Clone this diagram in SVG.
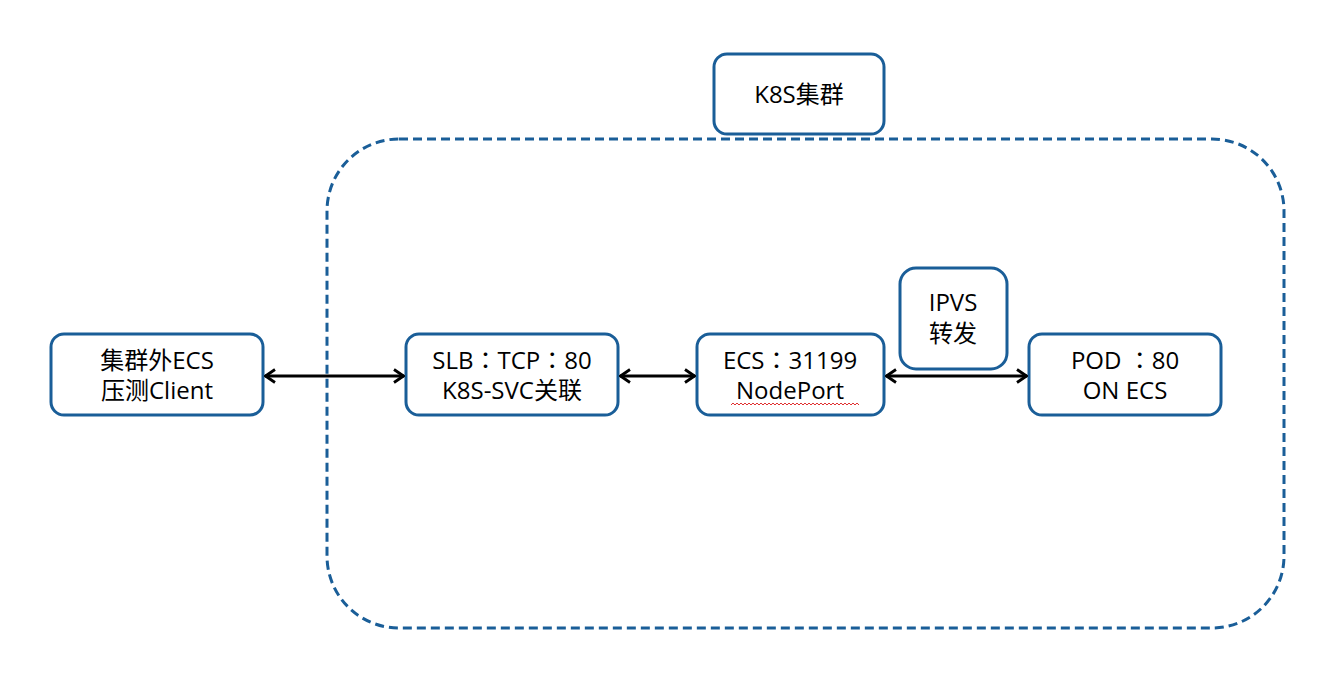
<svg xmlns="http://www.w3.org/2000/svg" width="1332" height="684" viewBox="0 0 1332 684">
<defs>
<marker id="ah" viewBox="0 0 14 16" refX="13" refY="8" markerWidth="14" markerHeight="16" markerUnits="userSpaceOnUse" orient="auto-start-reverse">
<path d="M3,1.5 L12.5,8 L3,14.5" fill="none" stroke="#000" stroke-width="2.8"/>
</marker>
</defs>
<style>
.box{fill:#fff;stroke:#1a5e98;stroke-width:3}
.cluster{fill:none;stroke:#1a5e98;stroke-width:3;stroke-dasharray:9 5}
.t{font-family:"Open Sans","Noto Sans CJK SC",sans-serif;font-size:24px;fill:#000;text-anchor:middle}
.p{font-family:"Noto Sans CJK TC","Noto Sans CJK SC",sans-serif}
.c{stroke:#000;stroke-width:2.8;fill:none;marker-start:url(#ah);marker-end:url(#ah)}
</style>
<rect width="1332" height="684" fill="#fff"/>
<g id="cluster">
<rect class="cluster" x="327" y="139" width="957" height="489" rx="72" ry="72"/>
</g>
<g id="k8s">
<rect class="box" x="714" y="54" width="170" height="80" rx="13"/>
<text class="t" x="799" y="103">K8S集群</text>
</g>
<g id="client">
<rect class="box" x="51" y="334" width="212" height="81" rx="13"/>
<text class="t" x="157" y="369">集群外ECS</text>
<text class="t" x="157" y="399">压测Client</text>
</g>
<g id="slb">
<rect class="box" x="406" y="334" width="212" height="81" rx="13"/>
<text class="t" x="512" y="369">SLB<tspan class="p">：</tspan>TCP<tspan class="p">：</tspan>80</text>
<text class="t" x="512" y="399">K8S-SVC关联</text>
</g>
<g id="ecs">
<rect class="box" x="697" y="334" width="187" height="81" rx="13"/>
<text class="t" x="790" y="369">ECS<tspan class="p">：</tspan>31199</text>
<text class="t" x="790" y="399">NodePort</text>
<path d="M731,405 l2,-2 l2,2 l2,-2 l2,2 l2,-2 l2,2 l2,-2 l2,2 l2,-2 l2,2 l2,-2 l2,2 l2,-2 l2,2 l2,-2 l2,2 l2,-2 l2,2 l2,-2 l2,2 l2,-2 l2,2 l2,-2 l2,2 l2,-2 l2,2 l2,-2 l2,2 l2,-2 l2,2 l2,-2 l2,2 l2,-2 l2,2 l2,-2 l2,2 l2,-2 l2,2 l2,-2 l2,2 l2,-2 l2,2 l2,-2 l2,2 l2,-2 l2,2 l2,-2 l2,2 l2,-2 l2,2 l2,-2 l2,2 l2,-2 l2,2 l2,-2 l2,2 l2,-2 l2,2 l2,-2 l2,2 l2,-2 l2,2 l2,-2 l2,2" fill="none" stroke="#e03030" stroke-width="1"/>
</g>
<g id="ipvs">
<rect class="box" x="900" y="268" width="107" height="101" rx="16"/>
<text class="t" x="953" y="311">IPVS</text>
<text class="t" x="953" y="342">转发</text>
</g>
<g id="pod">
<rect class="box" x="1029" y="334" width="192" height="81" rx="13"/>
<text class="t" x="1125" y="369">POD <tspan class="p">：</tspan>80</text>
<text class="t" x="1125" y="399">ON ECS</text>
</g>
<g id="connectors">
<line class="c" x1="265" y1="376" x2="404" y2="376"/>
<line class="c" x1="620" y1="376" x2="695" y2="376"/>
<line class="c" x1="886" y1="376" x2="1027" y2="376"/>
</g>
</svg>
